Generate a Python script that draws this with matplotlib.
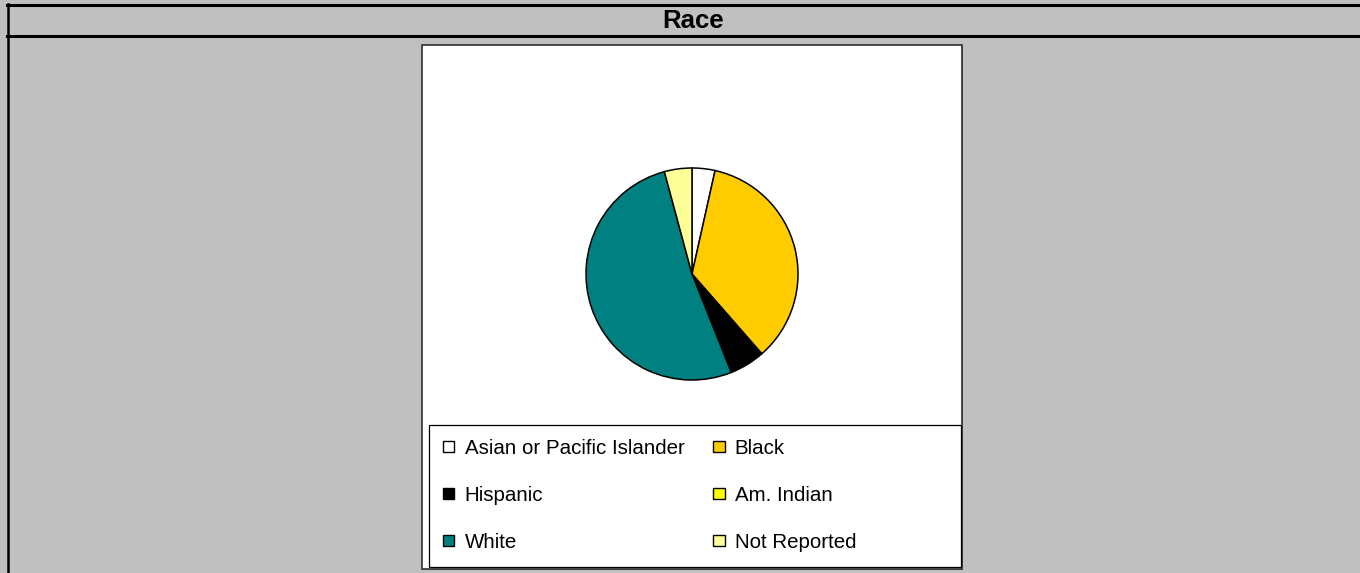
import matplotlib.pyplot as plt
from matplotlib.patches import Rectangle
from matplotlib.lines import Line2D

plt.rcParams['font.family'] = ['Liberation Sans', 'DejaVu Sans']

# data (percent)
labels = ["Asian or Pacific Islander", "Black", "Hispanic", "Am. Indian", "White", "Not Reported"]
values = [3.5, 35.1, 5.4, 0.0, 51.9, 4.2]
colors = ["#FFFFFF", "#FFCC00", "#000000", "#FFFF00", "#008080", "#FFFF99"]
title = "Race"

W, H = 1360, 573
fig = plt.figure(figsize=(W / 100, H / 100), dpi=100, facecolor="#C0C0C0")

def fx(x):
    return x / W

def fy(y):
    return 1 - y / H

# outer frame lines
fig.add_artist(Line2D([fx(7), fx(W)], [fy(5), fy(5)], color="black", lw=2.2, zorder=-2))
fig.add_artist(Line2D([fx(7), fx(W)], [fy(36), fy(36)], color="black", lw=2.2, zorder=-2))
fig.add_artist(Line2D([fx(8), fx(8)], [fy(4), fy(H)], color="black", lw=1.8, zorder=-2))
fig.text(fx(693), fy(21), title, ha="center", va="center", fontsize=18.5, fontweight="bold")

# white chart area
fig.add_artist(Rectangle((fx(423), fy(570)), fx(963) - fx(423), fy(46) - fy(570),
                         facecolor="#808080", edgecolor="none", zorder=-2))
fig.add_artist(Rectangle((fx(422), fy(569)), fx(962) - fx(422), fy(45) - fy(569),
                         facecolor="white", edgecolor="#303030", lw=1.2, zorder=-2))
# legend box
fig.add_artist(Rectangle((fx(429), fy(567)), fx(961) - fx(429), fy(425) - fy(567),
                         facecolor="white", edgecolor="black", lw=0.9, zorder=-1))

# pie
cx, cy, r = 692, 274, 106
ax = fig.add_axes([fx(cx - r), fy(cy + r), 2 * r / W, 2 * r / H])
ax.set_zorder(5)
wedges, _ = ax.pie(values, colors=colors, startangle=90, counterclock=False,
                   wedgeprops=dict(edgecolor="black", linewidth=1.1))
ax.set_xlim(-1, 1)
ax.set_ylim(-1, 1)
ax.set_aspect("equal")
ax.axis("off")
for w in wedges:
    w.set_clip_on(False)

# legend, row-major order in two columns
order = [0, 2, 4, 1, 3, 5]
leg = fig.legend([wedges[i] for i in order], [labels[i] for i in order],
                 loc="upper left", bbox_to_anchor=(fx(443), fy(439)),
                 ncol=2, frameon=False, fontsize=14.8, borderaxespad=0, borderpad=0,
                 handlelength=0.55, handleheight=0.45, handletextpad=0.5,
                 labelspacing=1.35, columnspacing=1.4)
leg.set_zorder(6)
for h in leg.legend_handles:
    h.set_edgecolor("black")
    h.set_linewidth(1.0)

fig.savefig("out.png", dpi=100, facecolor=fig.get_facecolor())
